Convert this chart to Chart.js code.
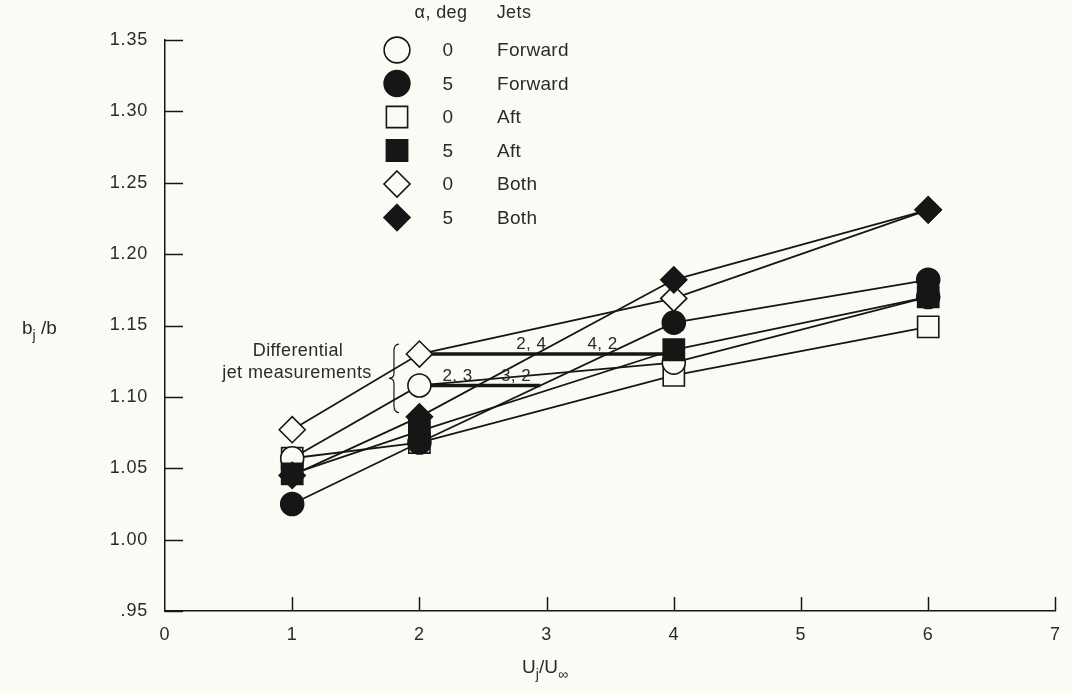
<!DOCTYPE html>
<html>
<head>
<meta charset="utf-8">
<script src="https://cdn.jsdelivr.net/npm/chart.js@4/dist/chart.umd.min.js"></script>
<style>
  html, body { margin: 0; padding: 0; background: #fbfbf6; }
  #wrap { width: 1072px; height: 693px; }
</style>
</head>
<body>
<div id="wrap"><canvas id="jetChart" width="1072" height="693"></canvas></div>
<script>
// jet velocity ratio Uj/Uinf
const uRatio = [1, 2, 4, 6];

// bj/b for each configuration (alpha, jets)
const fwdAlpha0 = [1.057, 1.108, 1.124, 1.170];
const fwdAlpha5 = [1.025, 1.068, 1.152, 1.182];
const aftAlpha0 = [1.057, 1.068, 1.115, 1.149];
const aftAlpha5 = [1.046, 1.076, 1.133, 1.170];
const bothAlpha0 = [1.077, 1.130, 1.169, 1.231];
const bothAlpha5 = [1.045, 1.086, 1.182, 1.231];

// differential jet measurements
const diffLongX = [2, 4];
const diffLongY = [1.130, 1.130];
const diffShortX = [2, 2.95];
const diffShortY = [1.108, 1.108];
const diffLabels = ['2, 4', '4, 2', '2, 3', '3, 2'];
const diffLabelX = [2.88, 3.44, 2.30, 2.76];
const diffLabelY = [1.130, 1.130, 1.108, 1.108];

const xTicks = [0, 1, 2, 3, 4, 5, 6, 7];
const xTickLabels = ['0', '1', '2', '3', '4', '5', '6', '7'];
const yTicks = [0.95, 1.00, 1.05, 1.10, 1.15, 1.20, 1.25, 1.30, 1.35];
const yTickLabels = ['.95', '1.00', '1.05', '1.10', '1.15', '1.20', '1.25', '1.30', '1.35'];

const legendAlpha = ['0', '5', '0', '5', '0', '5'];
const legendJets = ['Forward', 'Forward', 'Aft', 'Aft', 'Both', 'Both'];

const ink = '#161616';
const textInk = '#2a2a2a';
const paper = '#fbfbf6';
const font = "'Liberation Sans', Arial, sans-serif";

const markers = [
  { style: 'circle', radius: 11.5, filled: false },
  { style: 'circle', radius: 11.5, filled: true },
  { style: 'rect', radius: 15, filled: false },
  { style: 'rect', radius: 15, filled: true },
  { style: 'rectRot', radius: 13, filled: false },
  { style: 'rectRot', radius: 13, filled: true }
];

function toPoints(xs, ys) {
  return xs.map((x, i) => ({ x: x, y: ys[i] }));
}

function series(label, values, m, order) {
  return {
    label: label,
    data: toPoints(uRatio, values),
    pointStyle: m.style,
    pointRadius: m.radius,
    pointHoverRadius: m.radius,
    pointBackgroundColor: m.filled ? ink : paper,
    pointBorderColor: ink,
    pointBorderWidth: 1.6,
    borderColor: ink,
    borderWidth: 1.8,
    fill: false,
    tension: 0,
    order: order
  };
}

function diffLine(xs, ys) {
  return {
    label: 'differential',
    data: toPoints(xs, ys),
    pointRadius: 0,
    borderColor: ink,
    borderWidth: 3.5,
    fill: false,
    order: 5
  };
}

function drawSub(ctx, parts, x, y, align) {
  // parts: [text, isSub]
  let total = 0;
  parts.forEach(p => {
    ctx.font = (p[1] ? '14px ' : '19px ') + font;
    total += ctx.measureText(p[0]).width;
  });
  let cx = align === 'center' ? x - total / 2 : x;
  ctx.textAlign = 'left';
  ctx.textBaseline = 'alphabetic';
  parts.forEach(p => {
    ctx.font = (p[1] ? '14px ' : '19px ') + font;
    ctx.fillText(p[0], cx, p[1] ? y + 6 : y);
    cx += ctx.measureText(p[0]).width;
  });
}

function drawMarker(ctx, m, x, y, k) {
  ctx.save();
  ctx.fillStyle = m.filled ? ink : paper;
  ctx.strokeStyle = ink;
  ctx.lineWidth = 1.6;
  ctx.beginPath();
  const r = m.radius * k;
  if (m.style === 'circle') {
    ctx.arc(x, y, r, 0, Math.PI * 2);
  } else if (m.style === 'rect') {
    const h = r * Math.SQRT1_2;
    ctx.rect(x - h, y - h, 2 * h, 2 * h);
  } else {
    ctx.moveTo(x, y - r); ctx.lineTo(x + r, y); ctx.lineTo(x, y + r); ctx.lineTo(x - r, y);
    ctx.closePath();
  }
  ctx.fill();
  ctx.stroke();
  ctx.restore();
}

const extras = {
  id: 'extras',
  beforeDraw(chart) {
    chart.ctx.letterSpacing = '0.8px';
  },
  afterDraw(chart) {
    const ctx = chart.ctx;
    const xs = chart.scales.x, ys = chart.scales.y;
    const area = chart.chartArea;
    ctx.save();

    // inward tick marks
    ctx.strokeStyle = ink;
    ctx.lineWidth = 1.5;
    yTicks.forEach(v => {
      const py = Math.round(ys.getPixelForValue(v)) + 0.5;
      ctx.beginPath(); ctx.moveTo(area.left, py); ctx.lineTo(area.left + 18, py); ctx.stroke();
    });
    xTicks.slice(1).forEach(v => {
      const px = Math.round(xs.getPixelForValue(v)) + 0.5;
      ctx.beginPath(); ctx.moveTo(px, area.bottom); ctx.lineTo(px, area.bottom - 14); ctx.stroke();
    });

    // axis titles
    ctx.fillStyle = textInk;
    ctx.letterSpacing = '0px';
    drawSub(ctx, [['b', false], ['j', true], [' /b', false]], 22, 334, 'left');
    drawSub(ctx, [['U', false], ['j', true], ['/U', false], ['\u221e', true]], 545, 673, 'center');

    // differential labels
    ctx.letterSpacing = '0.5px';
    ctx.font = '17px ' + font;
    ctx.textAlign = 'center';
    ctx.textBaseline = 'bottom';
    diffLabels.forEach((t, i) => {
      ctx.fillText(t, xs.getPixelForValue(diffLabelX[i]), ys.getPixelForValue(diffLabelY[i]) - 1);
    });

    // brace and note
    const bx = xs.getPixelForValue(1.80);
    const bTop = ys.getPixelForValue(1.137), bBot = ys.getPixelForValue(1.089);
    const bMid = (bTop + bBot) / 2;
    ctx.lineWidth = 1.2;
    ctx.beginPath();
    ctx.moveTo(bx + 5, bTop);
    ctx.quadraticCurveTo(bx, bTop, bx, bTop + 7);
    ctx.lineTo(bx, bMid - 5);
    ctx.quadraticCurveTo(bx, bMid, bx - 5, bMid);
    ctx.quadraticCurveTo(bx, bMid, bx, bMid + 5);
    ctx.lineTo(bx, bBot - 7);
    ctx.quadraticCurveTo(bx, bBot, bx + 5, bBot);
    ctx.stroke();
    ctx.font = '18px ' + font;
    ctx.letterSpacing = '0.4px';
    ctx.textBaseline = 'middle';
    ctx.fillText('Differential', 298, 351);
    ctx.fillText('jet measurements', 297, 373);

    // legend
    ctx.font = '18px ' + font;
    ctx.textAlign = 'center';
    ctx.fillText('\u03b1, deg', 441, 13);
    ctx.fillText('Jets', 514, 13);
    ctx.font = '19px ' + font;
    ctx.letterSpacing = '0.3px';
    legendJets.forEach((label, i) => {
      const ly = 50 + i * 33.5;
      drawMarker(ctx, markers[i], 397, ly, markers[i].style === 'circle' ? 1.12 : 1.0);
      ctx.fillStyle = textInk;
      ctx.textAlign = 'center';
      ctx.fillText(legendAlpha[i], 448, ly + 1);
      ctx.textAlign = 'left';
      ctx.fillText(label, 497, ly + 1);
    });
    ctx.restore();
  }
};

new Chart(document.getElementById('jetChart'), {
  type: 'line',
  data: {
    datasets: [
      series('0 Forward', fwdAlpha0, markers[0], 3),
      series('5 Forward', fwdAlpha5, markers[1], 1),
      series('0 Aft', aftAlpha0, markers[2], 4),
      series('5 Aft', aftAlpha5, markers[3], 0),
      series('0 Both', bothAlpha0, markers[4], 3),
      series('5 Both', bothAlpha5, markers[5], 2),
      diffLine(diffLongX, diffLongY),
      diffLine(diffShortX, diffShortY)
    ]
  },
  options: {
    responsive: false,
    animation: false,
    devicePixelRatio: 1,
    layout: { padding: { top: 40, right: 15, left: 0, bottom: 0 } },
    plugins: {
      legend: { display: false },
      tooltip: { enabled: false }
    },
    scales: {
      x: {
        type: 'linear',
        min: 0,
        max: 7,
        afterBuildTicks: s => { s.ticks = xTicks.map(v => ({ value: v })); },
        afterFit: s => { s.height = 82; },
        grid: { display: false },
        border: { display: true, color: ink, width: 1.5 },
        ticks: {
          callback: (v, i) => xTickLabels[i],
          color: textInk,
          font: { family: font, size: 18 },
          padding: 5,
          maxRotation: 0
        }
      },
      y: {
        type: 'linear',
        min: 0.95,
        max: 1.35,
        afterBuildTicks: s => { s.ticks = yTicks.map(v => ({ value: v })); },
        afterFit: s => { s.width = 165; },
        grid: { display: false },
        border: { display: true, color: ink, width: 1.5 },
        ticks: {
          callback: (v, i) => yTickLabels[i],
          color: textInk,
          font: { family: font, size: 18 },
          padding: 9
        }
      }
    }
  },
  plugins: [extras]
});
</script>
</body>
</html>
